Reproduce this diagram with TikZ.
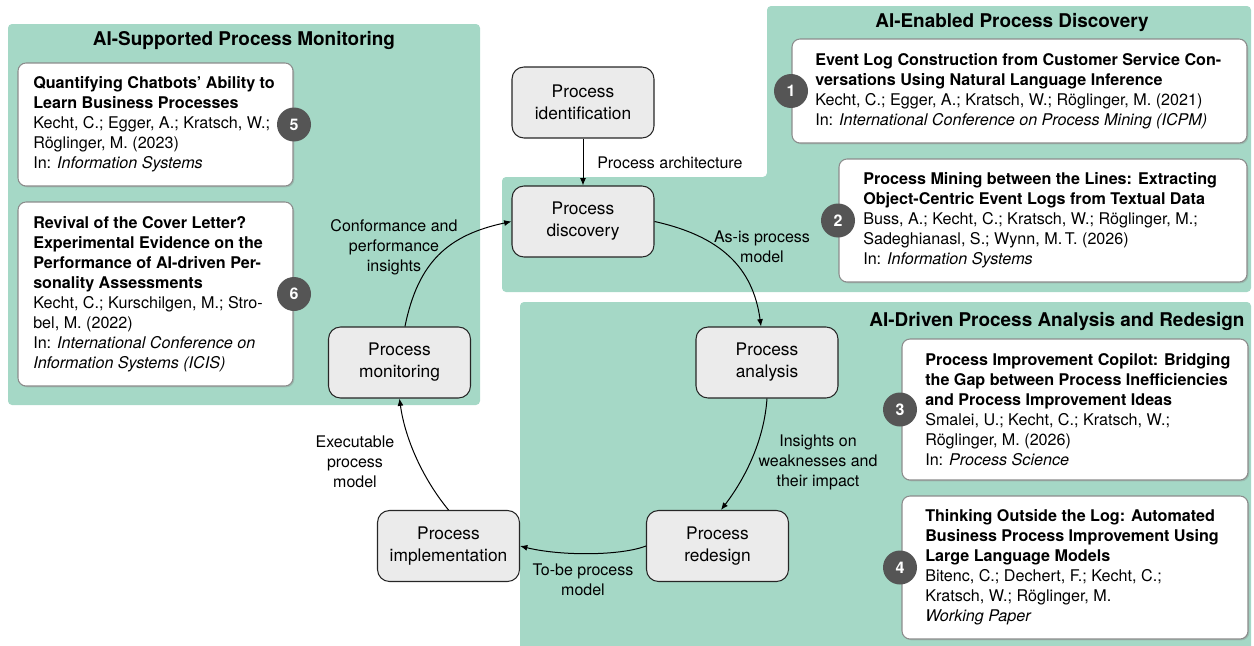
\documentclass[tikz,border=0pt]{standalone}
\usepackage{fontspec}
\setmainfont{TeX Gyre Heros}
\usetikzlibrary{arrows.meta,shadows}

\definecolor{panelgreen}{RGB}{165,216,198}
\definecolor{phasegray}{RGB}{235,235,235}
\definecolor{badgegray}{RGB}{85,85,85}

\tikzset{
  panel/.style={fill=panelgreen, rounded corners=3pt},
  paneltitle/.style={font=\fontsize{14.2}{17}\selectfont\bfseries, inner sep=0pt},
  phase/.style={draw=black!85, fill=phasegray, line width=0.8pt, rounded corners=9pt,
    minimum width=106.5pt, minimum height=53.25pt, align=center, inner sep=0pt,
    font=\fontsize{13}{16.5}\selectfont},
  paper/.style={draw=black!45, fill=white, line width=0.8pt, rounded corners=6pt, inner sep=0pt,
    drop shadow={opacity=0.3, shadow xshift=1pt, shadow yshift=-1pt}},
  papertext/.style={anchor=west, align=left, inner sep=0pt, font=\fontsize{12.1}{15}\selectfont},
  badge/.style={circle, fill=badgegray, text=white, minimum size=25.5pt, inner sep=0pt,
    font=\fontsize{12}{14}\selectfont\bfseries},
  flow/.style={-{Latex[length=5.5pt,width=4.5pt]}, line width=0.75pt},
  flowlabel/.style={align=center, inner sep=0pt, font=\fontsize{12}{15}\selectfont},
}

\begin{document}
\begin{tikzpicture}[x=0.75pt, y=-0.75pt]
\useasboundingbox (0,0) rectangle (1254,646);

% ---- background panels ----
\fill[panel] (8,24) rectangle (480,405);
\fill[panel] (502,177) -- (767,177) -- (767,6) -- (1251,6) -- (1251,292) -- (502,292) -- cycle;
\fill[panel] (520,302) rectangle (1251,652);

\node[paneltitle] (tmon) at (244,41) {AI-Supported Process Monitoring};
\node[paneltitle] (tdisc) at (1012,23) {AI-Enabled Process Discovery};
\node[paneltitle] (tana) at (1057,322) {AI-Driven Process Analysis and Redesign};

% ---- publication cards ----
\node[paper, minimum width=206.25pt, minimum height=92.25pt] (p5) at (155.5,124.5) {};
\node[papertext] (t5) at (33,124.5) {\textbf{Quantifying Chatbots’ Ability to}\\
\textbf{Learn Business Processes}\\
Kecht, C.; Egger, A.; Kratsch, W.;\\
Röglinger, M. (2023)\\
In: \textit{Information Systems}};

\node[paper, minimum width=206.25pt, minimum height=138pt] (p6) at (155.5,294) {};
\node[papertext] (t6) at (33,294) {\textbf{Revival of the Cover Letter?}\\
\textbf{Experimental Evidence on the}\\
\textbf{Performance of AI-driven Per-}\\
\textbf{sonality Assessments}\\
Kecht, C.; Kurschilgen, M.; Stro-\\
bel, M. (2022)\\
In: \textit{International Conference on}\\
\textit{Information Systems (ICIS)}};

\node[paper, minimum width=341.25pt, minimum height=78pt] (p1) at (1019.5,91) {};
\node[papertext] (t1) at (815,91) {\textbf{Event Log Construction from Customer Service Con-}\\
\textbf{versations Using Natural Language Inference}\\
Kecht, C.; Egger, A.; Kratsch, W.; Röglinger, M. (2021)\\
In: \textit{International Conference on Process Mining (ICPM)}};

\node[paper, minimum width=306pt, minimum height=92.25pt] (p2) at (1043,220.5) {};
\node[papertext] (t2) at (863,220.5) {\textbf{Process Mining between the Lines: Extracting}\\
\textbf{Object-Centric Event Logs from Textual Data}\\
Buss, A.; Kecht, C.; Kratsch, W.; Röglinger, M.;\\
Sadeghianasl, S.; Wynn, M.\,T. (2026)\\
In: \textit{Information Systems}};

\node[paper, minimum width=259.5pt, minimum height=105.75pt] (p3) at (1075,409.5) {};
\node[papertext] (t3) at (925,409.5) {\textbf{Process Improvement Copilot: Bridging}\\
\textbf{the Gap between Process Inefficiencies}\\
\textbf{and Process Improvement Ideas}\\
Smalei, U.; Kecht, C.; Kratsch, W.;\\
Röglinger, M. (2026)\\
In: \textit{Process Science}};

\node[paper, minimum width=259.5pt, minimum height=107.25pt] (p4) at (1075,567.5) {};
\node[papertext] (t4) at (925,567.5) {\textbf{Thinking Outside the Log: Automated}\\
\textbf{Business Process Improvement Using}\\
\textbf{Large Language Models}\\
Bitenc, C.; Dechert, F.; Kecht, C.;\\
Kratsch, W.; Röglinger, M.\\
\textit{Working Paper}};

% ---- number badges ----
\node[badge] (b1) at (791,91) {1};
\node[badge] (b2) at (838,220.5) {2};
\node[badge] (b3) at (900,409.5) {3};
\node[badge] (b4) at (900,567.5) {4};
\node[badge] (b5) at (294,124.5) {5};
\node[badge] (b6) at (294,294) {6};

% ---- BPM lifecycle ----
\node[phase] (ident) at (583,102.5) {Process\\identification};
\node[phase] (disc)  at (583,221.5) {Process\\discovery};
\node[phase] (anal)  at (767,362.5) {Process\\analysis};
\node[phase] (redes) at (717.5,546) {Process\\redesign};
\node[phase] (impl)  at (448.5,546) {Process\\implementation};
\node[phase] (mon)   at (399.5,362.5) {Process\\monitoring};

\draw[flow] (ident) -- (disc);
\node[flowlabel, anchor=west] (lident) at (597,163) {Process architecture};

\draw[flow] (disc.east) .. controls (720,236) and (753,267) .. ([xshift=-4.5pt]anal.north);
\node[flowlabel] (ldisc) at (762,247) {As-is process\\model};

\draw[flow] (anal.south) .. controls (764,442) and (744,480) .. ([xshift=2.6pt]redes.north);
\node[flowlabel] (lanal) at (818,462) {Insights on\\weaknesses and\\their impact};

\draw[flow] (redes.west) .. controls (620,556) and (560,556) .. (impl.east);
\node[flowlabel] (lredes) at (583,580) {To-be process\\model};

\draw[flow] (impl.north) .. controls (423,479) and (405,439) .. (mon.south);
\node[flowlabel] (limpl) at (355,462) {Executable\\process\\model};

\draw[flow] ([xshift=4.1pt]mon.north) .. controls (418,262) and (448,235) .. (disc.west);
\node[flowlabel] (lmon) at (394,247) {Conformance and\\performance\\insights};
\end{tikzpicture}
\end{document}
